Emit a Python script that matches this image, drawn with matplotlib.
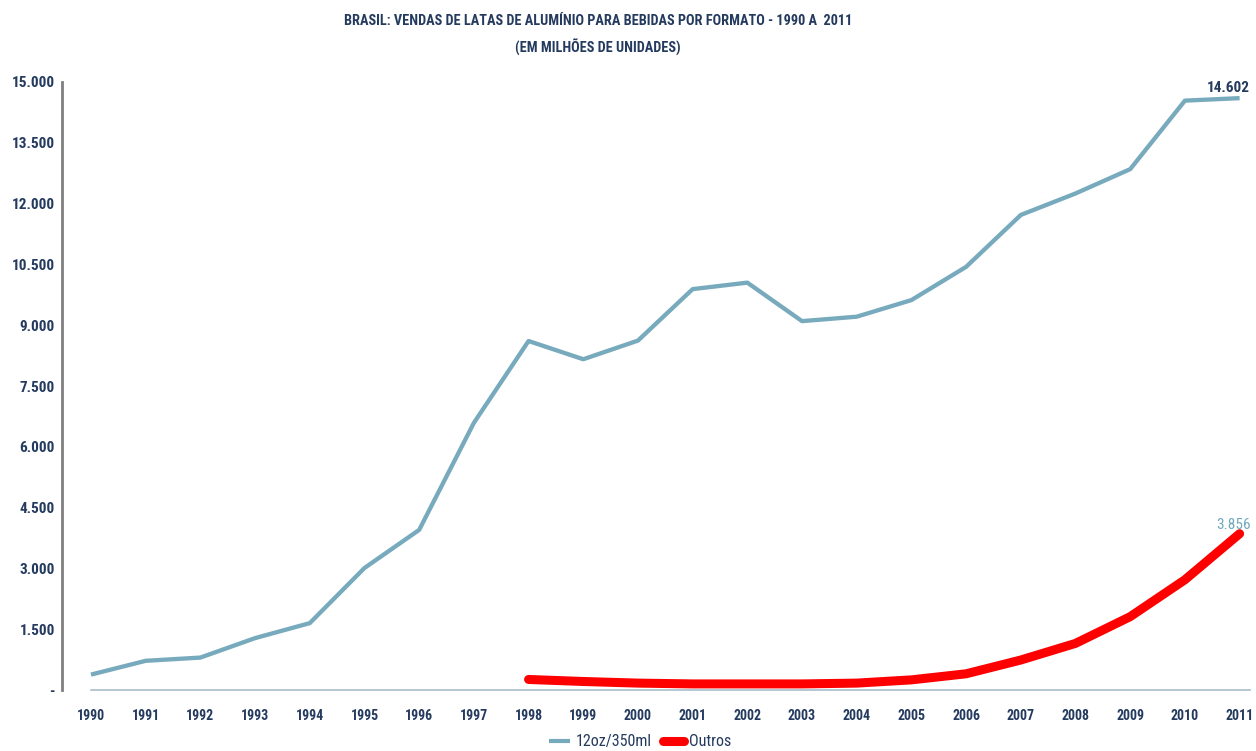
import numpy as np
import matplotlib.pyplot as plt
from matplotlib.ticker import FuncFormatter
from matplotlib.lines import Line2D
from matplotlib import font_manager

years = list(range(1990, 2012))
latas_12oz = [380, 720, 800, 1280, 1650, 3010, 3950, 6590, 8610, 8160, 8620,
              9890, 10050, 9100, 9210, 9620, 10440, 11720, 12250, 12850, 14540, 14602]
outros_years = list(range(1998, 2012))
outros = [260, 210, 170, 150, 150, 150, 170, 250, 400, 740, 1150, 1810, 2720, 3856]

navy = '#243A5E'
blue = '#78AABD'
red = '#FF0000'

# narrowest installed face wins
fonts = font_manager.fontManager.ttflist
prefer = ['Liberation Sans Narrow', 'Roboto Condensed', 'Open Sans Condensed']
narrow = []
for name in prefer:
    narrow = [f for f in fonts if f.name == name]
    if narrow:
        break
if not narrow:
    narrow = [f for f in fonts if 'condensed' in str(f.stretch) or 'Condensed' in f.name]


def pick(heavy):
    w = (600, 700, 'bold', 'semibold') if heavy else (400, 'normal', 'regular')
    hit = [f for f in narrow if f.weight in w and f.style == 'normal']
    return hit[0] if hit else (narrow[0] if narrow else None)


def fp(size, heavy=False):
    f = pick(heavy)
    if f is not None:
        return font_manager.FontProperties(fname=f.fname, size=size)
    return font_manager.FontProperties(family='DejaVu Sans', size=size * 0.8,
                                       weight='bold' if heavy else 'normal')


fig = plt.figure(figsize=(12.56, 7.51), dpi=100)
ax = fig.add_axes([62 / 1256, 1 - 690 / 751, (1250 - 62) / 1256, (690 - 82) / 751])

ax.plot(years, latas_12oz, color=blue, lw=3.1, solid_capstyle='butt', zorder=3)
ax.plot(outros_years, outros, color=red, lw=6.5, solid_capstyle='round', zorder=4)

ax.set_xlim(1989.47, 2011.19)
ax.set_ylim(0, 15000)
ax.set_yticks(np.arange(0, 15001, 1500))
ax.yaxis.set_major_formatter(FuncFormatter(
    lambda v, p: '-' if v == 0 else f'{int(v):,}'.replace(',', '.')))
ax.set_xticks(years)

for s in ['top', 'right', 'bottom']:
    ax.spines[s].set_visible(False)
ax.spines['left'].set_color('#7F7F7F')
ax.spines['left'].set_linewidth(2)
ax.plot([1990, 2011.19], [0, 0], color='#A9BECA', lw=1.2, clip_on=False, zorder=2)

ax.tick_params(axis='both', length=0, labelcolor=navy)
ax.tick_params(axis='y', pad=5)
ax.tick_params(axis='x', pad=14)
for lbl in ax.get_yticklabels():
    lbl.set_fontproperties(fp(11, True))
for lbl in ax.get_xticklabels():
    lbl.set_fontproperties(fp(10, True))

ax.annotate('14.602', (years[-1], latas_12oz[-1]), xytext=(7, 2),
            textcoords='offset points', ha='right', va='bottom',
            fontproperties=fp(11, True), color=navy)
ax.annotate('3.856', (outros_years[-1], outros[-1]), xytext=(8, 1),
            textcoords='offset points', ha='right', va='bottom',
            fontproperties=fp(11), color='#6FA8BC')

fig.text(0.476, 0.972, 'BRASIL: VENDAS DE LATAS DE ALUMÍNIO PARA BEBIDAS POR FORMATO - 1990 A  2011',
         ha='center', va='center', fontproperties=fp(10.3, True), color=navy)
fig.text(0.476, 0.937, '(EM MILHÕES DE UNIDADES)',
         ha='center', va='center', fontproperties=fp(10.3, True), color=navy)

handles = [Line2D([], [], color=blue, lw=3, solid_capstyle='butt'),
           Line2D([], [], color=red, lw=6.5, solid_capstyle='round')]
leg = ax.legend(handles, ['12oz/350ml', 'Outros'], loc='center',
                bbox_to_anchor=(0.487, -0.0855), ncol=2, frameon=False,
                handlelength=1.3, handletextpad=0.35, columnspacing=0.7,
                borderpad=0, prop=fp(11.5))
for t in leg.get_texts():
    t.set_color(navy)

fig.savefig('out.png', dpi=100, facecolor='white')
